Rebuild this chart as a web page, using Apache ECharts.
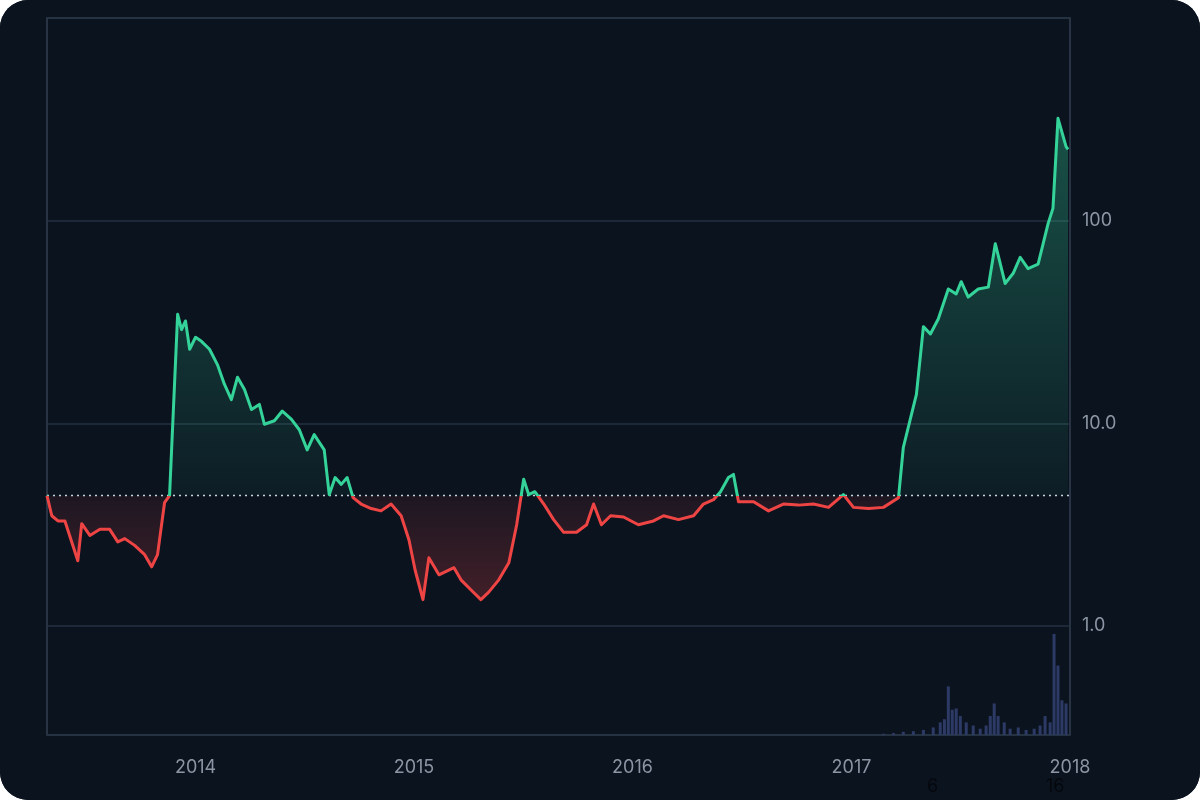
<!DOCTYPE html>
<html>
<head>
  <meta charset="utf-8">
  <title>price chart</title>
  <script src="https://cdn.jsdelivr.net/npm/echarts@6/dist/echarts.min.js"></script>
  <style>
    html,body { margin: 0; padding: 0; background: #fff; }
    #main { width: 1200px; height: 800px; background: #0b131f; border-radius: 28px; overflow: hidden; }
  </style>
</head>
<body>
  <div id="main"></div>
  <script>
    // decimal years, with prices
    var priceYears = [2013.320,2013.342,2013.370,2013.402,2013.461,2013.479,2013.516,2013.562,2013.607,2013.644,2013.676,2013.721,2013.767,2013.799,2013.826,2013.858,2013.881,2013.918,2013.936,2013.954,2013.973,2014.000,2014.027,2014.064,2014.100,2014.132,2014.164,2014.192,2014.224,2014.256,2014.292,2014.315,2014.361,2014.397,2014.438,2014.475,2014.511,2014.543,2014.589,2014.612,2014.639,2014.667,2014.694,2014.721,2014.758,2014.804,2014.849,2014.895,2014.941,2014.977,2015.005,2015.041,2015.068,2015.114,2015.183,2015.215,2015.260,2015.306,2015.342,2015.388,2015.434,2015.470,2015.502,2015.525,2015.553,2015.594,2015.639,2015.685,2015.744,2015.790,2015.822,2015.858,2015.900,2015.959,2016.027,2016.096,2016.142,2016.210,2016.279,2016.324,2016.370,2016.402,2016.438,2016.461,2016.484,2016.553,2016.621,2016.689,2016.758,2016.826,2016.895,2016.963,2017.009,2017.078,2017.146,2017.215,2017.237,2017.269,2017.297,2017.329,2017.361,2017.397,2017.443,2017.479,2017.502,2017.534,2017.580,2017.626,2017.658,2017.703,2017.740,2017.772,2017.808,2017.854,2017.900,2017.922,2017.945,2017.982,2017.991];
    var prices = [4.4,3.5,3.3,3.3,2.1,3.2,2.8,3.0,3.0,2.6,2.7,2.5,2.25,1.96,2.25,4.06,4.4,34.5,29,32,23.2,26.6,25.4,23.2,19.5,15.6,13.1,16.9,14.7,11.7,12.4,9.9,10.3,11.5,10.5,9.3,7.4,8.8,7.4,4.45,5.4,5.0,5.4,4.3,4.0,3.8,3.7,4.0,3.5,2.66,1.89,1.35,2.17,1.79,1.94,1.69,1.51,1.35,1.47,1.69,2.05,3.16,5.3,4.45,4.6,4.0,3.35,2.9,2.9,3.16,4.0,3.16,3.5,3.45,3.16,3.3,3.5,3.35,3.5,4.0,4.2,4.6,5.4,5.6,4.1,4.1,3.7,4.0,3.95,4.0,3.85,4.45,3.85,3.8,3.85,4.3,7.6,10.5,13.9,30,27.6,32.7,46,43.5,50,42,46,47,77,49,55,66,58,61,97,115,320,232,225];
    var volumeYears = [2017.146,2017.192,2017.237,2017.283,2017.329,2017.374,2017.406,2017.425,2017.443,2017.461,2017.479,2017.498,2017.525,2017.557,2017.589,2017.616,2017.635,2017.653,2017.671,2017.699,2017.726,2017.763,2017.799,2017.836,2017.863,2017.886,2017.909,2017.927,2017.945,2017.963,2017.982];
    var volumes = [0.2,0.3,0.5,0.6,0.8,1.2,2.0,2.5,7.7,4.0,4.2,3.0,2.0,1.5,1.0,1.5,3.0,5.0,3.0,2.0,1.0,1.2,0.8,1.0,1.5,3.0,2.0,16.0,11.0,5.5,5.0];
    var baseline = 4.4;

    function toTime(y) {
      var yr = Math.floor(y);
      var a = Date.UTC(yr, 0, 1), b = Date.UTC(yr + 1, 0, 1);
      return a + (y - yr) * (b - a);
    }
    var priceData = priceYears.map(function (y, i) { return [toTime(y), prices[i]]; });
    var volData = volumeYears.map(function (y, i) { return [toTime(y), volumes[i]]; });
    var xMin = toTime(2013.320), xMax = toTime(2018.0);

    // area between line and baseline, the line itself, and the dotted baseline
    function renderArea(params, api) {
      var pts = priceData.map(function (d) { return api.coord(d); });
      var by = api.coord([xMin, baseline])[1];
      var first = pts[0], last = pts[pts.length - 1];
      var poly = [[first[0], by]].concat(pts).concat([[last[0], by]]);
      var cs = params.coordSys;
      var top = cs.y, bottom = cs.y + cs.height;
      var s = (by - top) / (bottom - top);
      return {
        type: 'group',
        children: [{
          type: 'polygon',
          shape: { points: poly },
          style: {
            fill: new echarts.graphic.LinearGradient(0, top, 0, bottom, [
              { offset: 0, color: 'rgba(52,211,153,0.40)' },
              { offset: s, color: 'rgba(52,211,153,0.05)' },
              { offset: s, color: 'rgba(239,68,68,0.08)' },
              { offset: 1, color: 'rgba(239,68,68,0.45)' }
            ], true)
          }
        }, {
          type: 'line',
          shape: { x1: cs.x, y1: by, x2: cs.x + cs.width, y2: by },
          style: { stroke: '#c9d1dc', lineWidth: 1.5, lineDash: [2, 4] }
        }, {
          type: 'polyline',
          shape: { points: pts },
          style: {
            fill: null, lineWidth: 3, lineJoin: 'round',
            stroke: new echarts.graphic.LinearGradient(0, top, 0, bottom, [
              { offset: 0, color: '#34d399' },
              { offset: s, color: '#34d399' },
              { offset: s, color: '#ef4444' },
              { offset: 1, color: '#ef4444' }
            ], true)
          }
        }]
      };
    }

    var chart = echarts.init(document.getElementById('main'));
    chart.setOption({
      backgroundColor: '#0b131f',
      animation: false,
      grid: [
        { left: 47, right: 130, top: 18, bottom: 65, show: true, borderColor: '#334050', borderWidth: 1.5, backgroundColor: 'transparent' },
        { left: 47, right: 130, top: 634, bottom: 65 }
      ],
      xAxis: [{
        type: 'time', gridIndex: 0, min: xMin, max: xMax,
        splitNumber: 5,
        axisLine: { show: false }, axisTick: { show: false }, splitLine: { show: false },
        axisLabel: { color: '#8b95a3', fontSize: 18, margin: 24, fontFamily: 'Inter', showMaxLabel: true,
          formatter: function (v) { var d = new Date(v); return d.getUTCMonth() === 0 ? String(d.getUTCFullYear()) : ''; } }
      }, {
        type: 'value', gridIndex: 1, min: xMin, max: xMax,
        axisLine: { show: false }, axisTick: { show: false }, splitLine: { show: false },
        axisLabel: { show: false }
      }],
      yAxis: [{
        type: 'log', gridIndex: 0, position: 'right', min: 0.29, max: 1000, logBase: 10,
        axisLine: { show: false }, axisTick: { show: false },
        splitLine: { lineStyle: { color: '#243242', width: 1.5 } },
        axisLabel: { color: '#8b95a3', fontSize: 18, margin: 12, fontFamily: 'Inter',
          formatter: function (v) {
            if (v === 1) return '1.0'; if (v === 10) return '10.0'; if (v === 100) return '100'; return '';
          } }
      }, {
        type: 'value', gridIndex: 1, min: 0, max: 16, show: false
      }],
      graphic: [
        { type: 'text', left: 927, top: 778, style: { text: '6', fill: '#05080d', fontSize: 18, fontFamily: 'Inter' } },
        { type: 'text', left: 1046, top: 778, style: { text: '16', fill: '#05080d', fontSize: 18, fontFamily: 'Inter' } }
      ],
      series: [{
        type: 'bar', xAxisIndex: 1, yAxisIndex: 1, data: volData,
        barWidth: 3, itemStyle: { color: '#2d3a66' }, z: 1
      }, {
        type: 'custom', xAxisIndex: 0, yAxisIndex: 0, data: [[xMin, baseline]],
        renderItem: renderArea, silent: true, z: 2
      }]
    });
  </script>
</body>
</html>
